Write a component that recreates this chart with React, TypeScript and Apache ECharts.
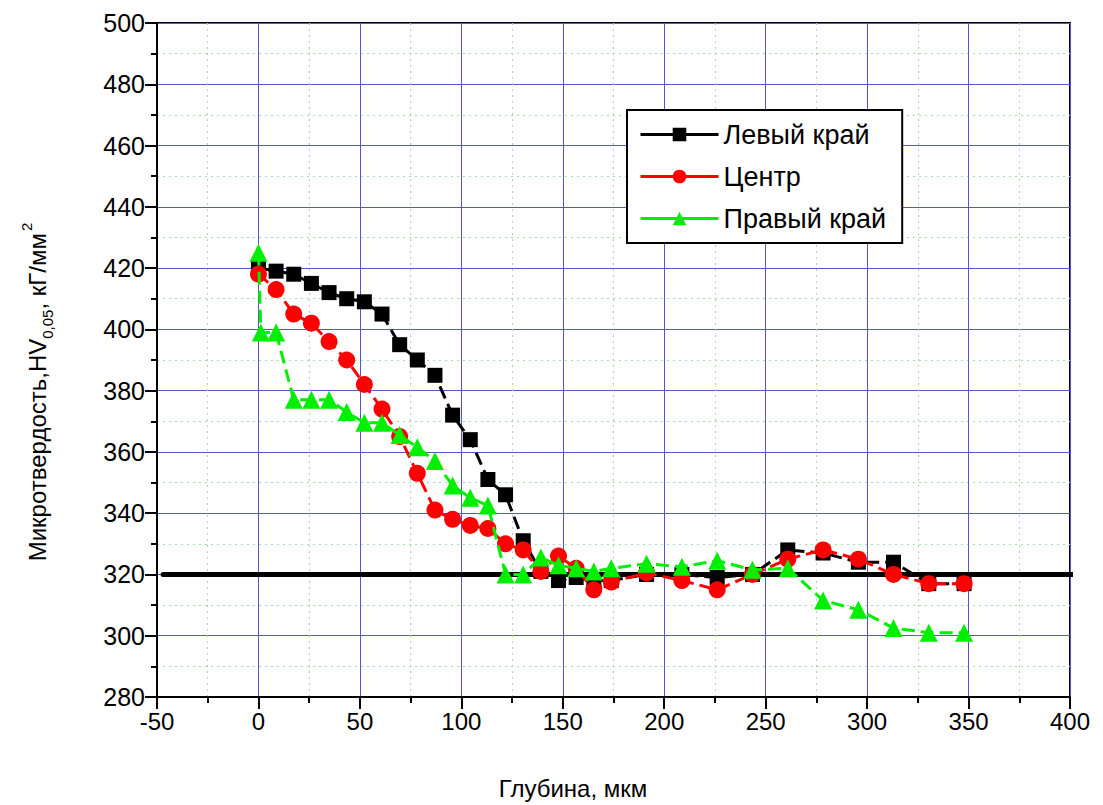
import React, { useEffect, useRef } from "react";
import * as echarts from "echarts";

const depth = [0, 8.7, 17.4, 26.1, 34.8, 43.5, 52.2, 60.9, 69.6, 78.3, 87.0, 95.7, 104.4, 113.1, 121.8, 130.5, 139.2, 147.9, 156.6, 165.3, 173.9, 191.3, 208.7, 226.1, 243.5, 260.9, 278.3, 295.7, 313.0, 330.4, 347.8];
const leftEdge = [420, 419, 418, 415, 412, 410, 409, 405, 395, 390, 385, 372, 364, 351, 346, 331, 321, 318, 319, 318, 318, 320, 320, 319, 320, 328, 327, 324, 324, 317, 317];
const center = [418, 413, 405, 402, 396, 390, 382, 374, 365, 353, 341, 338, 336, 335, 330, 328, 321, 326, 322, 315, 317.5, 320.5, 318, 315, 320, 325, 328, 325, 320, 317, 317];
const depthRight = [0, 1.2, 8.7, 17.4, 26.1, 34.8, 43.5, 52.2, 60.9, 69.6, 78.3, 87.0, 95.7, 104.4, 113.1, 121.8, 130.5, 139.2, 147.9, 156.6, 165.3, 173.9, 191.3, 208.7, 226.1, 243.5, 260.9, 278.3, 295.7, 313.0, 330.4, 347.8];
const rightEdge = [425, 399, 399, 377, 377, 377, 373, 369.5, 369.5, 365.5, 361.5, 357, 349, 345, 342.5, 320, 320, 325.5, 323, 322, 321, 322, 323.5, 322.5, 324.5, 321.5, 322, 311.5, 308.5, 302.5, 301, 301];
const thresholdX = [-47, 414];
const thresholdY = [320, 320];

const seriesNames = ["Левый край", "Центр", "Правый край"];
const xTitle = "Глубина, мкм";

const FONT = "'Liberation Sans', Arial, sans-serif";

export default function App() {
  const ref = useRef<HTMLDivElement>(null);
  useEffect(() => {
    if (!ref.current) return;
    const chart = echarts.init(ref.current, null, { renderer: "svg" });
    const pairs = (xs: number[], ys: number[]) => xs.map((x, i) => [x, ys[i]]);
    const dash = [13, 6];
    chart.setOption({
      animation: false,
      backgroundColor: "#ffffff",
      textStyle: { fontFamily: FONT },
      grid: {
        left: 157,
        right: 33,
        top: 23,
        bottom: 108,
        show: true,
        borderColor: "#000",
        borderWidth: 2,
        backgroundColor: "transparent",
      },
      legend: {
        data: seriesNames,
        orient: "vertical",
        left: 627,
        top: 110,
        backgroundColor: "#fff",
        borderColor: "#000",
        borderWidth: 2,
        padding: [9, 16, 9, 12],
        itemGap: 11,
        itemWidth: 78,
        itemHeight: 17,
        lineStyle: { type: "solid", width: 3 },
        textStyle: { fontSize: 27, color: "#000", fontFamily: FONT, lineHeight: 31 },
      },
      xAxis: {
        type: "value",
        min: -50,
        max: 400,
        interval: 50,
        axisLine: { show: true, onZero: false, lineStyle: { color: "#000", width: 2 } },
        axisTick: { show: true, length: 12, lineStyle: { color: "#000", width: 2 } },
        minorTick: { show: true, splitNumber: 2, length: 6, lineStyle: { color: "#000", width: 2 } },
        axisLabel: { fontSize: 24, color: "#000", margin: 12, fontFamily: FONT },
        splitLine: { show: true, lineStyle: { color: "#5555cc", width: 1 } },
        minorSplitLine: { show: true, lineStyle: { color: "#a8dca8", width: 1, type: [2, 4] } },
      },
      yAxis: {
        type: "value",
        min: 280,
        max: 500,
        interval: 20,
        axisLine: { show: true, onZero: false, lineStyle: { color: "#000", width: 2 } },
        axisTick: { show: true, length: 12, lineStyle: { color: "#000", width: 2 } },
        minorTick: { show: true, splitNumber: 2, length: 6, lineStyle: { color: "#000", width: 2 } },
        axisLabel: { fontSize: 25, color: "#000", margin: 12, fontFamily: FONT },
        splitLine: { show: true, lineStyle: { color: "#5555cc", width: 1 } },
        minorSplitLine: { show: true, lineStyle: { color: "#a8dca8", width: 1, type: [2, 4] } },
      },
      graphic: [
        {
          type: "text",
          x: 573,
          y: 788,
          style: {
            text: xTitle,
            fontSize: 24,
            fontFamily: FONT,
            fill: "#000",
            align: "center",
            verticalAlign: "middle",
          },
        },
        {
          type: "text",
          x: 37,
          y: 392,
          rotation: Math.PI / 2,
          style: {
            text: "{a|Микротвердость,HV}{s|0,05}{a|, кГ/мм}{p|2}",
            fontFamily: FONT,
            fill: "#000",
            align: "center",
            verticalAlign: "middle",
            rich: {
              a: { fontSize: 24, fontFamily: FONT, fill: "#000", lineHeight: 40, verticalAlign: "middle" },
              s: { fontSize: 15, fontFamily: FONT, fill: "#000", lineHeight: 40, verticalAlign: "bottom", padding: [0, 0, 2, 0] },
              p: { fontSize: 15, fontFamily: FONT, fill: "#000", lineHeight: 40, verticalAlign: "top", padding: [2, 0, 0, 2] },
            },
          },
        },
      ],
      series: [
        {
          name: "threshold",
          type: "line",
          data: pairs(thresholdX, thresholdY),
          symbol: "none",
          clip: false,
          silent: true,
          lineStyle: { color: "#000", width: 5, cap: "round" },
          z: 1,
        },
        {
          name: seriesNames[0],
          type: "line",
          data: pairs(depth, leftEdge),
          symbol: "rect",
          symbolSize: 15,
          itemStyle: { color: "#000" },
          lineStyle: { color: "#000", width: 3, type: dash },
          z: 2,
        },
        {
          name: seriesNames[1],
          type: "line",
          data: pairs(depth, center),
          symbol: "circle",
          symbolSize: 17,
          itemStyle: { color: "#ff0000" },
          lineStyle: { color: "#ff0000", width: 3, type: dash },
          z: 3,
        },
        {
          name: seriesNames[2],
          type: "line",
          data: pairs(depthRight, rightEdge),
          symbol: "triangle",
          symbolSize: 18,
          itemStyle: { color: "#00ee00" },
          lineStyle: { color: "#00ee00", width: 3, type: dash },
          z: 4,
        },
      ],
    });
    return () => chart.dispose();
  }, []);
  return (
    <div
      ref={ref}
      style={{ position: "fixed", left: 0, top: 0, width: 1103, height: 805, background: "#fff" }}
    />
  );
}
